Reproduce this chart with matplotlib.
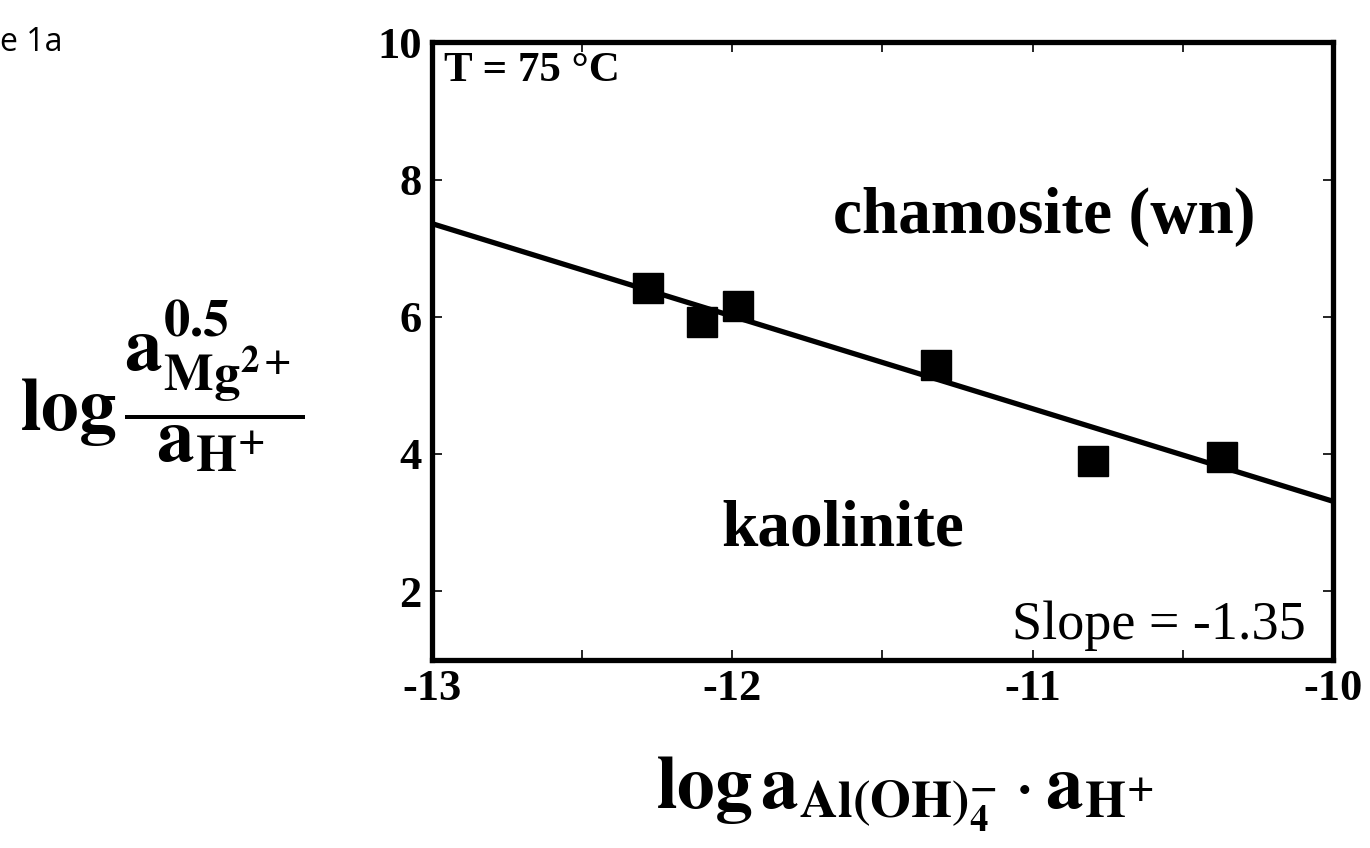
import matplotlib
matplotlib.use("Agg")
import matplotlib.pyplot as plt
import numpy as np

# data
log_al_h = [-12.28, -12.10, -11.98, -11.32, -10.80, -10.37]
log_mg_h = [6.42, 5.93, 6.15, 5.30, 3.90, 3.95]
fit_slope = -1.35
fit_at_left = 7.36   # value of the fit line at x = -13
x_ticks = [-13, -12, -11, -10]
y_ticks = [2, 4, 6, 8, 10]

plt.rcParams["mathtext.fontset"] = "stix"
plt.rcParams["axes.unicode_minus"] = False
serif = "Liberation Serif"

fig = plt.figure(figsize=(13.7, 8.48), dpi=100)
ax = fig.add_axes([0.315, 0.222, 0.658, 0.728])

xs = np.array([-13, -10])
ax.plot(xs, fit_at_left + fit_slope * (xs + 13), color="black", lw=3.8, zorder=2)
ax.plot(log_al_h, log_mg_h, "s", color="black", markersize=21, zorder=3)

ax.set_xlim(-13, -10)
ax.set_ylim(1, 10)
ax.set_xticks(x_ticks)
ax.set_xticks([-12.5, -11.5, -10.5], minor=True)
ax.set_yticks(y_ticks)
ax.tick_params(which="both", direction="in", length=7, width=1.2,
               top=True, right=True, pad=7)
for lab in ax.get_xticklabels() + ax.get_yticklabels():
    lab.set_fontfamily(serif)
    lab.set_fontweight("bold")
    lab.set_fontsize(32)
for s in ax.spines.values():
    s.set_linewidth(3.8)

ax.text(0.014, 0.985, "T = 75 \u00b0C", transform=ax.transAxes, ha="left", va="top",
        family=serif, weight="bold", fontsize=31)
ax.text(-10.96, 7.45, "chamosite (wn)", ha="center", va="center",
        family=serif, weight="bold", fontsize=47)
ax.text(-11.63, 2.9, "kaolinite", ha="center", va="center",
        family=serif, weight="bold", fontsize=47)
ax.text(-10.09, 1.5, "Slope = -1.35", ha="right", va="center",
        family=serif, fontsize=39)

fig.text(0.118, 0.545,
         r"$\mathbf{log}\,\dfrac{\mathbf{a}^{\mathbf{0.5}}_{\mathbf{Mg}^{\mathbf{2+}}}}{\mathbf{a}_{\mathbf{H}^{\mathbf{+}}}}$",
         ha="center", va="center", fontsize=54)
fig.text(0.660, 0.063,
         r"$\mathbf{log\,a}_{\mathbf{Al(OH)}_{\mathbf{4}}^{\mathbf{-}}}\cdot\mathbf{a}_{\mathbf{H}^{\mathbf{+}}}$",
         ha="center", va="center", fontsize=54)

fig.text(0.0, 0.950, "e 1a", ha="left", va="center",
         family="Open Sans", fontsize=23)

fig.savefig("out.png", dpi=100)
